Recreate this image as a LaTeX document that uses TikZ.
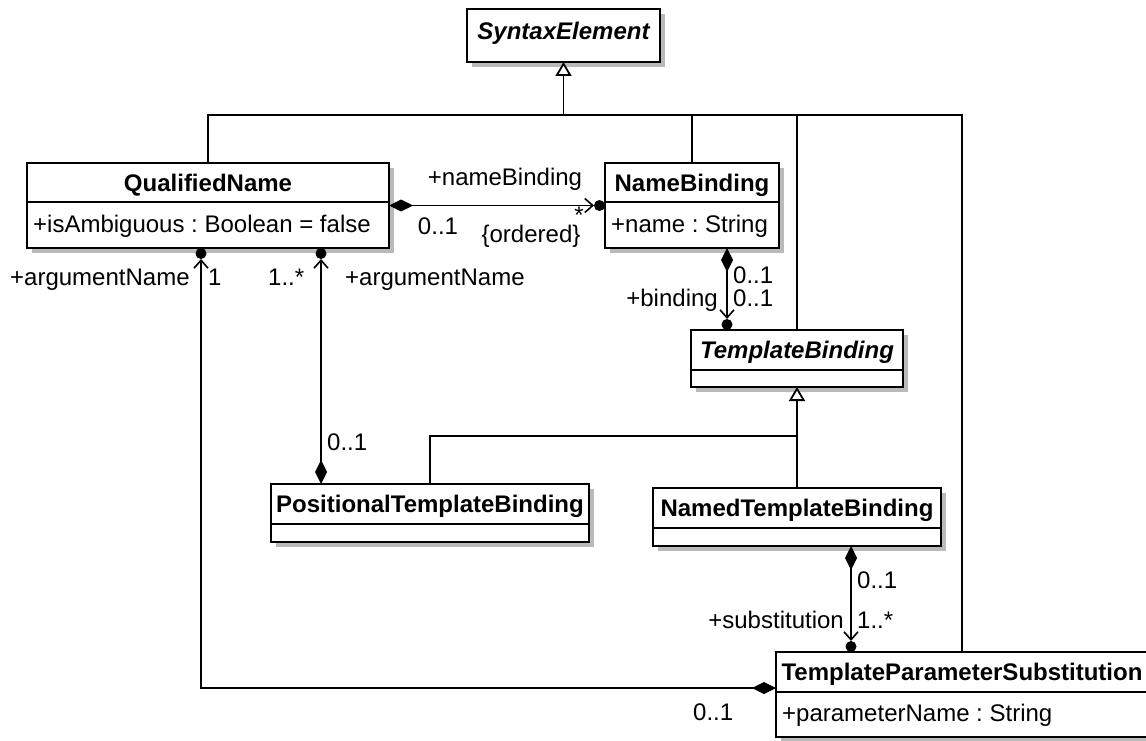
\documentclass[tikz,border=0pt]{standalone}
\usepackage{fontspec}
\setmainfont{Liberation Sans}
\usetikzlibrary{arrows.meta,shadows,calc}
\frenchspacing
\tikzset{
  cls/.style={draw, line width=1.9pt, fill=white, inner sep=0pt, outer sep=0pt, anchor=north west,
    general shadow={fill=black!27, shadow xshift=5pt, shadow yshift=-5pt}},
  sep/.style={line width=1.9pt},
  ttl/.style={inner sep=0pt, font=\fontsize{24}{28}\selectfont\bfseries},
  attr/.style={inner sep=0pt, font=\fontsize{24}{28}\selectfont},
  lbl/.style={inner sep=0pt, font=\fontsize{24}{28}\selectfont},
  line/.style={line width=1.8pt},
  gen/.style={line width=1.8pt, -{Triangle[length=14pt,width=16pt,fill=white,line width=1.8pt]}},
  assoc/.style={line width=1.8pt, {Diamond[length=24pt,width=12pt]}-{Straight Barb[length=8pt,width=14pt,line width=1.6pt]}},
  enddot/.style={fill=black},
}
\newcommand\umlcls[8]{%
  \node[cls, minimum width=#4pt, minimum height=#5pt] (#1) at (#2,#3) {};
  \draw[sep] ($(#1.north west)+(0,#6)$) -- ($(#1.north east)+(0,#6)$);
  \node[ttl, anchor=base] (#1-t) at ($(#1.north)+(0,{#6/2+8.5})$) {#7};
  \node[attr, anchor=base west] (#1-a) at ($(#1.north west)+(6,{(#6+#5)/2+7})$) {#8};
}
\begin{document}
\begin{tikzpicture}[x=1pt,y=-1pt]
\useasboundingbox (0,0) rectangle (1146,741);
\clip (0,0) rectangle (1146,741);

% classes
\node[cls, minimum width=193pt, minimum height=53pt] (se) at (467,9) {};
\node[ttl, font=\fontsize{24}{28}\selectfont\bfseries\itshape, anchor=base] (se-t) at ($(se.north)+(0,30.5)$) {SyntaxElement};

\umlcls{qn}{27}{163}{362}{85}{39}{QualifiedName}{+isAmbiguous : Boolean = false}
\umlcls{nb}{605}{163}{174}{85}{39}{NameBinding}{+name : String}
\umlcls{tb}{691}{330}{212}{57}{40}{\itshape TemplateBinding}{}
\umlcls{ptb}{271}{484}{318}{58}{40}{PositionalTemplateBinding}{}
\umlcls{ntb}{653}{488}{288}{58}{40}{NamedTemplateBinding}{}
\umlcls{tps}{776}{652}{372}{85}{40}{TemplateParameterSubstitution}{+parameterName : String}

% generalizations
\coordinate (j1) at (se.south |- 0,115);
\draw[gen] (j1) -- (se.south);
\draw[line] (qn.north) |- (j1);
\draw[line] (j1) -| (tps.north);
\draw[line] (nb.north) -- (nb.north |- j1);
\draw[line] (tb.north) -- (tb.north |- j1);
\coordinate (j2) at (tb.south |- 0,436);
\draw[gen] (j2) -- (tb.south);
\draw[line] (ptb.north) |- (j2);
\draw[line] (ntb.north) -- (ntb.north |- j2);

% associations
\draw[assoc] (qn.east) -- ($(nb.west |- qn.east)+(-11,0)$);
\fill[enddot] ($(nb.west |- qn.east)+(-5.5,0)$) circle (5.5pt);

\coordinate (x2) at (727,0);
\draw[assoc] (nb.south -| x2) -- ($(tb.north -| x2)+(0,-11)$);
\fill[enddot] ($(tb.north -| x2)+(0,-5.5)$) circle (5.5pt);

\coordinate (x3) at (321,0);
\draw[assoc] (ptb.north -| x3) -- ($(qn.south -| x3)+(0,11)$);
\fill[enddot] ($(qn.south -| x3)+(0,5.5)$) circle (5.5pt);

\coordinate (x4) at (201,0);
\coordinate (y4) at (0,688);
\draw[assoc] (tps.west |- y4) -| ($(qn.south -| x4)+(0,11)$);
\fill[enddot] ($(qn.south -| x4)+(0,5.5)$) circle (5.5pt);

\coordinate (x5) at (851,0);
\draw[assoc] (ntb.south -| x5) -- ($(tps.north -| x5)+(0,-11)$);
\fill[enddot] ($(tps.north -| x5)+(0,-5.5)$) circle (5.5pt);

% labels
\node[lbl, anchor=base] (l1) at (505,185.5) {+nameBinding};
\node[lbl, anchor=base] (l2) at (438,234) {0..1};
\node[lbl, anchor=base] (l3) at (579,223) {*};
\node[lbl, anchor=base] (l4) at (531,242.5) {\{ordered\}};
\node[lbl, anchor=base west] (l5) at (733,283.5) {0..1};
\node[lbl, anchor=base west] (l6) at (733,306.5) {0..1};
\node[lbl, anchor=base east] (l7) at (718,306.5) {+binding};
\node[lbl, anchor=base west] (l8) at (10,285.5) {+argumentName};
\node[lbl, anchor=base west] (l9) at (208,285.5) {1};
\node[lbl, anchor=base west] (l10) at (268,285.5) {1..*};
\node[lbl, anchor=base west] (l11) at (345,285.5) {+argumentName};
\node[lbl, anchor=base west] (l12) at (327,450.5) {0..1};
\node[lbl, anchor=base west] (l13) at (857,588.5) {0..1};
\node[lbl, anchor=base west] (l14) at (857,628.5) {1..*};
\node[lbl, anchor=base east] (l15) at (844,628.5) {+substitution};
\node[lbl, anchor=base west] (l16) at (693,720.5) {0..1};
\end{tikzpicture}
\end{document}
